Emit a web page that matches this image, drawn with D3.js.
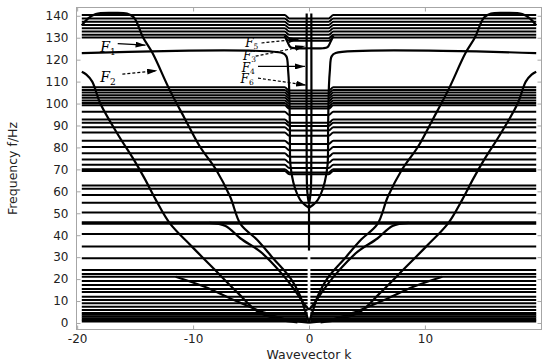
<!DOCTYPE html>
<html lang="en">
<head>
<meta charset="UTF-8">
<script src="https://cdn.jsdelivr.net/npm/d3@7/dist/d3.min.js"></script>
<title>Dispersion</title>
<style>
  body { margin: 0; background: #fff; }
  svg { display: block; font-family: "DejaVu Sans", sans-serif; }
  .frame { fill: none; stroke: #a6a6a6; stroke-width: 1; }
  .axis path { display: none; }
  .axis line { stroke: #a6a6a6; }
  .axis text { fill: #222; font-size: 12px; font-family: "DejaVu Sans", sans-serif; }
  .band { fill: none; stroke: #000; stroke-width: 2; }
  .disp { fill: none; stroke: #000; stroke-width: 2.2; }
  .lbl { font-family: "DejaVu Serif", serif; font-style: italic; fill: #000; }
  .arrow { stroke: #000; stroke-width: 1.2; fill: none; }
</style>
</head>
<body>
<div id="chart"></div>
<script>
// flat bands (Hz)
var levels = [140.3, 138.8, 137.3, 135.8, 134.3, 132.8, 131.3, 130.1,
  107.4, 106.2, 105.0, 103.8, 102.6, 101.4, 100.2, 99.2,
  96.3, 92.7, 91.3, 89.2, 86.8, 83.1, 80.2, 77.3, 74.5, 72.1, 70.1, 69.3,
  62.6, 61.2, 58.3, 54.8, 50.4, 45.9, 45.2, 40.5, 34.8, 29.5,
  24.1, 22.3, 21.1, 19.1, 17.3, 15.5, 14.1, 12.0, 10.5, 9.0, 7.4, 5.9,
  4.6, 3.8, 3.0, 2.2, 1.4, 0.7];

// dispersive branches, left half (k <= 0); the plot is symmetric in k
var branchF1 = [[-19.6,135.6],[-19.1,138.6],[-18.4,140.8],[-17,141.3],[-15.7,141],[-15.1,139.2],
  [-14.3,130],[-13.5,123],[-12.0,106],[-10.7,93],[-9.4,80.3],[-8.0,69.7],[-6.8,57.5],
  [-5.9,45],[-4.5,38],[-3.1,29.5],[-1.6,20.4],[-0.8,12.8],[-0.3,5],[0,0.5]];
var branchF2 = [[-19.6,114.5],[-19.2,113.2],[-18.7,110],[-18.0,100],[-16.5,86],[-15.1,74.3],
  [-14.2,66],[-13.2,56],[-12.0,45.4],[-10.1,34.8],[-8.1,24.1],[-6.1,13.5],[-4.4,5.1],
  [-2.5,1.5],[-1,0.3]];
var branchL2 = [[-8.6,45.6],[-7.2,44.2],[-5.9,38.5],[-4.2,32.5],[-2.5,23.4],[-1.35,15.8],[-0.35,8.2],[0,6]];
var branchA = [[-11.5,21.1],[-9,16.5],[-6.5,10.5],[-3.9,4.8],[-2,1.6],[0,0.2]];
var branchWall = [[-19.6,123],[-2.3,123],[-1.95,121.5],[-1.8,115],[-1.72,108],[-1.65,90],
  [-1.6,72],[-1.35,64],[-1.0,58.5],[-0.6,55],[0,52.5]];
var branchWell = [[-2.1,131],[-1.85,128],[-1.6,125.7],[-1.2,125.2],[0,125.2]];
var branchCenter = [[-0.2,141],[-0.2,75],[-0.15,60],[0,54]];
var spike = [[0,54],[0,33]];

var innerDrop = 1.5;

var notes = [
  {n: "1", at: [-18.0, 123.6], from: [-16.5, 127.3], to: [-14.1, 126.6], dash: false},
  {n: "2", at: [-18.0, 109.8], from: [-16.1, 113.4], to: [-13.1, 115.0], dash: true},
  {n: "5", at: [-5.5, 125.6], from: [-4.1, 127.6], to: [-0.9, 129.4], dash: true},
  {n: "3", at: [-5.7, 120.0], from: [-4.6, 121.6], to: [-0.35, 126.2], dash: true},
  {n: "4", at: [-5.8, 114.6], from: [-4.4, 116.9], to: [-0.35, 116.9], dash: false},
  {n: "6", at: [-5.9, 109.2], from: [-4.4, 111.6], to: [-0.25, 108.4], dash: true}
];

var W = 550, H = 362;
var pL = 76, pR = 542, pT = 7, pB = 330;

var x = d3.scaleLinear().domain([-20.1, 20.1]).range([pL, pR]);
var y = d3.scaleLinear().domain([-3.2, 144]).range([pB, pT]);

var svg = d3.select("#chart").append("svg").attr("width", W).attr("height", H);

var defs = svg.append("defs");
defs.append("marker").attr("id", "head")
  .attr("viewBox", "0 0 10 6").attr("refX", 10).attr("refY", 3)
  .attr("markerWidth", 10).attr("markerHeight", 6)
  .attr("markerUnits", "userSpaceOnUse").attr("orient", "auto")
  .append("path").attr("d", "M0,0L10,3L0,6Z").attr("fill", "#000");
defs.append("clipPath").attr("id", "clip").append("rect")
  .attr("x", pL).attr("y", pT).attr("width", pR - pL).attr("height", pB - pT);

var line = d3.line().x(function(d) { return x(d[0]); }).y(function(d) { return y(d[1]); });
var smooth = d3.line().x(function(d) { return x(d[0]); }).y(function(d) { return y(d[1]); })
  .curve(d3.curveCatmullRom.alpha(0.5));
var mono = d3.line().x(function(d) { return x(d[0]); }).y(function(d) { return y(d[1]); })
  .curve(d3.curveMonotoneX);

var plot = svg.append("g").attr("clip-path", "url(#clip)");

// flat bands
levels.forEach(function(f) {
  if (f >= 65) {
    plot.append("path").attr("class", "band")
      .attr("d", mono([[-19.6,f],[-2.1,f],[-1.7,f-innerDrop],[1.7,f-innerDrop],[2.1,f],[19.6,f]]));
  } else if (f < 33) {
    plot.append("path").attr("class", "band").attr("d", line([[-19.6,f],[-0.12,f]]));
    plot.append("path").attr("class", "band").attr("d", line([[0.12,f],[19.6,f]]));
  } else {
    plot.append("path").attr("class", "band").attr("d", line([[-19.6,f],[19.6,f]]));
  }
});

// dispersive branches, both halves
function mirror(pts) { return pts.map(function(p) { return [-p[0], p[1]]; }); }
[branchF1, branchF2, branchL2, branchA, branchWall, branchWell, branchCenter].forEach(function(b) {
  plot.append("path").attr("class", "disp").attr("d", smooth(b));
  plot.append("path").attr("class", "disp").attr("d", smooth(mirror(b)));
});
plot.append("path").attr("class", "disp").attr("stroke-width", 3.5).attr("d", line(spike));

// frame and ticks
svg.append("rect").attr("class", "frame")
  .attr("x", pL + 0.5).attr("y", pT + 0.5)
  .attr("width", pR - pL - 1).attr("height", pB - pT - 1);

var yt = d3.range(0, 141, 10);
var xt = [-20, -10, 0, 10];
svg.append("g").attr("class", "axis").attr("transform", "translate(" + (pL + 0.5) + ",0)")
  .call(d3.axisLeft(y).tickValues(yt).tickSize(-4).tickPadding(8).tickFormat(function(d) { return String(d); }));
svg.append("g").attr("class", "axis").attr("transform", "translate(" + (pR - 0.5) + ",0)")
  .call(d3.axisRight(y).tickValues(yt).tickSize(-4).tickFormat(""));
svg.append("g").attr("class", "axis").attr("transform", "translate(0," + (pB - 0.5) + ")")
  .call(d3.axisBottom(x).tickValues(xt).tickSize(-4).tickPadding(5).tickFormat(function(d) { return String(d); }));
svg.append("g").attr("class", "axis").attr("transform", "translate(0," + (pT + 0.5) + ")")
  .call(d3.axisTop(x).tickValues(xt).tickSize(-4).tickFormat(""));

// axis titles
svg.append("text")
  .attr("transform", "translate(" + 16.5 + "," + ((pT + pB) / 2) + ") rotate(-90)")
  .style("text-anchor", "middle").style("font-size", "12.5px").attr("fill", "#222")
  .text("Frequency f/Hz");
svg.append("text")
  .attr("x", x(0)).attr("y", 358.5)
  .style("text-anchor", "middle").style("font-size", "12.5px").attr("fill", "#222")
  .text("Wavevector k");

// annotations
notes.forEach(function(a, i) {
  var big = i < 2;
  var t = svg.append("text").attr("class", "lbl")
    .attr("x", x(a.at[0])).attr("y", y(a.at[1])).style("font-size", big ? "14px" : "12px");
  t.append("tspan").text("F");
  t.append("tspan").attr("dy", big ? 3 : 2).style("font-size", big ? "9px" : "7.5px")
    .style("font-style", "normal").text(a.n);
  svg.append("line").attr("class", "arrow")
    .attr("x1", x(a.from[0])).attr("y1", y(a.from[1]))
    .attr("x2", x(a.to[0])).attr("y2", y(a.to[1]))
    .attr("stroke-dasharray", a.dash ? "3,2" : null)
    .attr("marker-end", "url(#head)");
});
</script>
</body>
</html>
